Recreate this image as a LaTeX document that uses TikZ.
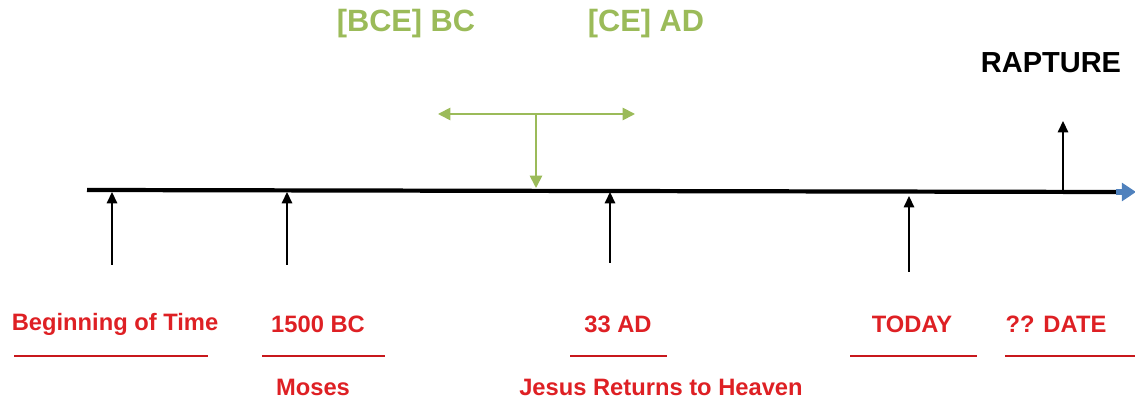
\documentclass[tikz,border=0pt]{standalone}
\usepackage{fontspec}
\setmainfont{Liberation Sans}
\usepackage{tikz}
\usetikzlibrary{arrows.meta, positioning}
\definecolor{datered}{RGB}{222,32,36}
\definecolor{linered}{RGB}{200,24,28}
\definecolor{eragreen}{RGB}{155,187,89}
\definecolor{tipblue}{RGB}{79,129,189}

\begin{document}
\begin{tikzpicture}[x=0.02cm, y=-0.02cm,
                        every node/.style={font=\bfseries, inner sep=0pt},
                        datelabel/.style={text=datered, font=\bfseries\fontsize{13.5}{16}\selectfont},
                        eralabel/.style={text=eragreen, font=\bfseries\fontsize{17.5}{20}\selectfont},
                        pointer/.style={draw, line width=0.8pt, -{Triangle[width=6pt,length=6.5pt]}},
                        erapointer/.style={draw=eragreen, line width=1pt, -{Triangle[width=7pt,length=7pt]}},
                        underline/.style={draw=linered, line width=1.6pt}
                        ]
  \useasboundingbox (0,0) rectangle (1135,404);

  % the timeline
  \coordinate (start) at (87,190);
  \coordinate (stop) at (1116,192);
  \draw[line width=2.4pt] (start) -- (stop);
  \draw[tipblue, line width=3pt, -{Triangle[width=10pt,length=8pt]}] (stop) -- (1136,192);

  % points on the line
  \coordinate (creation) at (112,192);
  \coordinate (moses) at (287,192);
  \coordinate (jesus) at (610,192);
  \coordinate (today) at (909,196);
  \coordinate (rapture) at (1063,192);

  \coordinate (creationfoot) at (112,265);
  \coordinate (mosesfoot) at (287,265);
  \coordinate (jesusfoot) at (610,263);
  \coordinate (todayfoot) at (909,272);
  \coordinate (rapturetop) at (1063,121);

  \draw[pointer] (creationfoot) -- (creation);
  \draw[pointer] (mosesfoot) -- (moses);
  \draw[pointer] (jesusfoot) -- (jesus);
  \draw[pointer] (todayfoot) -- (today);
  \draw[pointer] (rapture) -- (rapturetop);

  % BC / AD split
  \node[eralabel] (bce) at (406,24) {[BCE] BC};
  \node[eralabel] (ce) at (646,24) {[CE] AD};
  \coordinate (splitleft) at (438,114);
  \coordinate (splitmid) at (536,114);
  \coordinate (splitright) at (635,114);
  \coordinate (zero) at (536,188);
  \draw[erapointer] (splitmid) -- (splitleft);
  \draw[erapointer] (splitmid) -- (splitright);
  \draw[erapointer] (splitmid) -- (zero);

  \node[font=\bfseries\fontsize{16.5}{19}\selectfont] (rapturelabel) at (1051,63) {RAPTURE};

  % dates and underlines
  \node[datelabel] (begin) at (115,324) {Beginning of Time};
  \node[datelabel] (bc) at (318,324) {1500 BC};
  \node[datelabel] (ad) at (618,324) {33 AD};
  \node[datelabel] (now) at (912,324) {TODAY};
  \node[datelabel] (date) at (1056,324) {?? DATE};

  \draw[underline] (14,356) -- (208,356);
  \draw[underline] (262,356) -- (385,356);
  \draw[underline] (570,356) -- (667,356);
  \draw[underline] (850,356) -- (977,356);
  \draw[underline] (1005,356) -- (1135,356);

  \node[datelabel] (mosesname) at (313,387) {Moses};
  \node[datelabel] (ascension) at (661,387) {Jesus Returns to Heaven};
\end{tikzpicture}
\end{document}
